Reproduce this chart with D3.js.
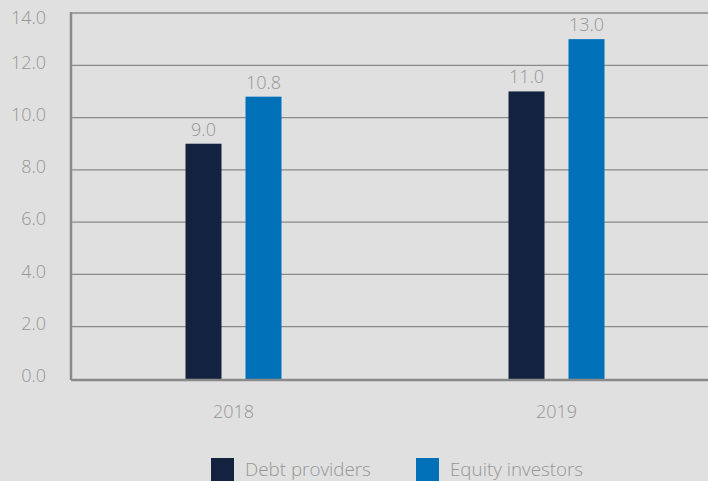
<!DOCTYPE html>
<html>
<head>
<meta charset="utf-8">
<script src="https://cdnjs.cloudflare.com/ajax/libs/d3/7.8.5/d3.min.js"></script>
<style>
  body { margin: 0; background: #e0e0e0; }
  svg { display: block; font-family: "Open Sans", sans-serif; font-weight: 300; }
</style>
</head>
<body>
<div id="chart"></div>
<script>
var years = ['2018', '2019'];
var seriesNames = ['Debt providers', 'Equity investors'];
var debtValues = [9.0, 11.0];
var equityValues = [10.8, 13.0];
var yTicks = [0, 2, 4, 6, 8, 10, 12, 14];
var colors = ['#13233f', '#0071b9'];

var width = 708, height = 481;
var margin = { top: 13, left: 72, bottom: 102 };
var plotRight = 718;

var svg = d3.select('#chart').append('svg')
  .attr('width', width)
  .attr('height', height);

svg.append('rect')
  .attr('width', width).attr('height', height)
  .attr('fill', '#e0e0e0');

var y = d3.scaleLinear()
  .domain([0, 14])
  .range([height - margin.bottom, margin.top]);

var x0 = d3.scaleBand()
  .domain(years)
  .range([margin.left, plotRight]);

var x1 = d3.scaleBand()
  .domain(seriesNames)
  .range([-48, 48])
  .paddingInner(0.4);

// gridlines
svg.selectAll('.grid').data(yTicks.filter(function(d) { return d > 0; }))
  .enter().append('line')
  .attr('x1', margin.left).attr('x2', width)
  .attr('y1', function(d) { return y(d); })
  .attr('y2', function(d) { return y(d); })
  .attr('stroke', '#8a8a8a')
  .attr('stroke-width', 1.3);

// y tick labels (top one pushed down so it isn't clipped)
svg.selectAll('.ytick').data(yTicks)
  .enter().append('text')
  .attr('x', 46)
  .attr('y', function(d) { return Math.max(y(d) - 3, 18); })
  .attr('dy', '0.35em')
  .attr('text-anchor', 'end')
  .attr('fill', '#969696')
  .style('font-size', '18px')
  .text(function(d) { return d.toFixed(1); });

var rows = years.map(function(yr, i) {
  return { year: yr, vals: [debtValues[i], equityValues[i]] };
});

var groups = svg.selectAll('.grp').data(rows)
  .enter().append('g')
  .attr('transform', function(d) {
    return 'translate(' + (x0(d.year) + x0.bandwidth() / 2) + ',0)';
  });

groups.selectAll('rect').data(function(d) {
    return d.vals.map(function(v, j) { return { name: seriesNames[j], v: v, j: j }; });
  })
  .enter().append('rect')
  .attr('x', function(d) { return x1(d.name); })
  .attr('width', x1.bandwidth())
  .attr('y', function(d) { return y(d.v); })
  .attr('height', function(d) { return y(0) - y(d.v); })
  .attr('fill', function(d) { return colors[d.j]; });

groups.selectAll('.val').data(function(d) {
    return d.vals.map(function(v, j) { return { name: seriesNames[j], v: v }; });
  })
  .enter().append('text')
  .attr('x', function(d) { return x1(d.name) + x1.bandwidth() / 2; })
  .attr('y', function(d) { return y(d.v) - 8; })
  .attr('text-anchor', 'middle')
  .attr('fill', '#969696')
  .style('font-size', '18px')
  .text(function(d) { return d.v.toFixed(1); });

// axes lines
svg.append('line')
  .attr('x1', margin.left - 1).attr('x2', margin.left - 1)
  .attr('y1', y(14) - 1).attr('y2', y(0) + 1)
  .attr('stroke', '#8a8a8a').attr('stroke-width', 2.5);
svg.append('line')
  .attr('x1', margin.left - 1).attr('x2', width)
  .attr('y1', y(0) + 1).attr('y2', y(0) + 1)
  .attr('stroke', '#8a8a8a').attr('stroke-width', 2.5);

// x labels
svg.selectAll('.xlab').data(years)
  .enter().append('text')
  .attr('x', function(d) { return x0(d) + x0.bandwidth() / 2; })
  .attr('y', 418)
  .attr('text-anchor', 'middle')
  .attr('fill', '#969696')
  .style('font-size', '18px')
  .text(function(d) { return d; });

// legend
var legendX = [211, 416];
var legend = svg.selectAll('.leg').data(seriesNames)
  .enter().append('g')
  .attr('transform', function(d, i) { return 'translate(' + legendX[i] + ',458)'; });
legend.append('rect')
  .attr('width', 23).attr('height', 23)
  .attr('fill', function(d, i) { return colors[i]; });
legend.append('text')
  .attr('x', 34).attr('y', 18)
  .attr('fill', '#969696')
  .style('font-size', '18.8px')
  .text(function(d) { return d; });
</script>
</body>
</html>
